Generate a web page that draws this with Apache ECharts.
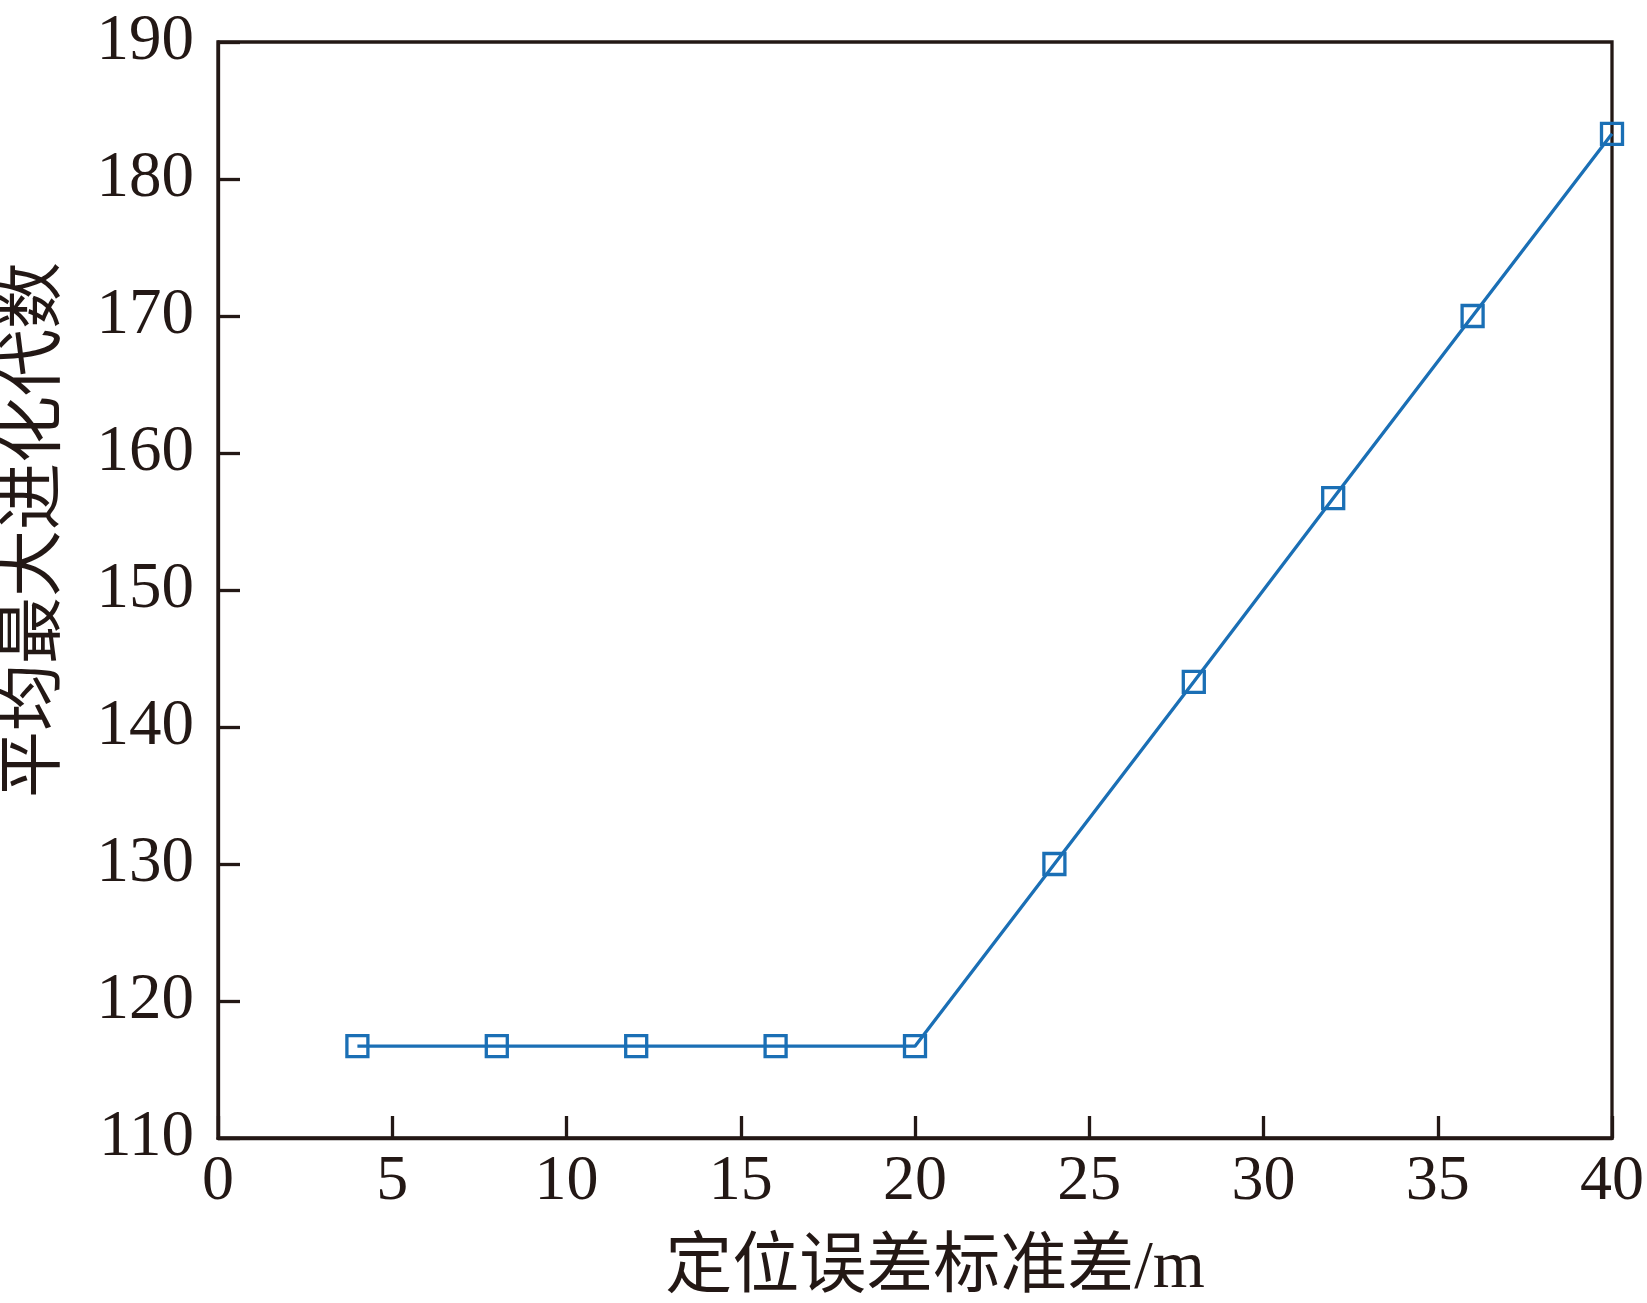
<!DOCTYPE html>
<html>
<head>
<meta charset="utf-8">
<script src="https://cdn.jsdelivr.net/npm/echarts@6/dist/echarts.min.js"></script>
<style>html,body{margin:0;padding:0;background:#fff}#c{width:1647px;height:1303px}</style>
</head>
<body>
<div id="c"></div>
<script>
const xValues = [4, 8, 12, 16, 20, 24, 28, 32, 36, 40];
const yValues = [116.7, 116.7, 116.7, 116.7, 116.7, 130, 143.3, 156.7, 170, 183.3];
const xAxisName = '定位误差标准差/m';
const yAxisName = '平均最大进化代数';

const ink = '#231815';
const blue = '#1a6fb5';
const font = '"Liberation Serif", "Times New Roman", "Noto Sans CJK SC", serif';

const chart = echarts.init(document.getElementById('c'));
chart.setOption({
  backgroundColor: '#fff',
  animation: false,
  grid: { left: 218, right: 35, top: 42, bottom: 165, containLabel: false, outerBoundsMode: 'none', show: true, borderColor: ink, borderWidth: 3.3, backgroundColor: 'transparent' },
  xAxis: {
    type: 'value', min: 0, max: 40, interval: 5,
    name: xAxisName, nameLocation: 'middle', nameGap: 98,
    nameTextStyle: { fontFamily: font, fontSize: 67, color: ink, padding: [0, 0, 0, 40] },
    axisLine: { show: true, lineStyle: { color: ink, width: 3.3 } },
    axisTick: { show: true, inside: true, length: 22, lineStyle: { color: ink, width: 3.3 } },
    axisLabel: { fontFamily: font, fontSize: 64, color: ink, margin: 12 },
    splitLine: { show: false }
  },
  yAxis: {
    type: 'value', min: 110, max: 190, interval: 10,
    name: yAxisName, nameLocation: 'middle', nameGap: 148, nameRotate: 90,
    nameTextStyle: { fontFamily: font, fontSize: 67, color: ink, padding: [0, 0, 0, 120] },
    axisLine: { show: true, lineStyle: { color: ink, width: 3.3 } },
    axisTick: { show: true, inside: true, length: 22, lineStyle: { color: ink, width: 3.3 } },
    axisLabel: { fontFamily: font, fontSize: 65, color: ink, margin: 24 },
    splitLine: { show: false }
  },
  series: [{
    type: 'line',
    data: xValues.map((x, i) => [x, yValues[i]]),
    clip: false,
    symbol: 'rect', symbolSize: 21,
    lineStyle: { color: blue, width: 3.3 },
    itemStyle: { color: 'rgba(0,0,0,0)', borderColor: blue, borderWidth: 3.3 },
    z: 3
  }]
});
</script>
</body>
</html>
